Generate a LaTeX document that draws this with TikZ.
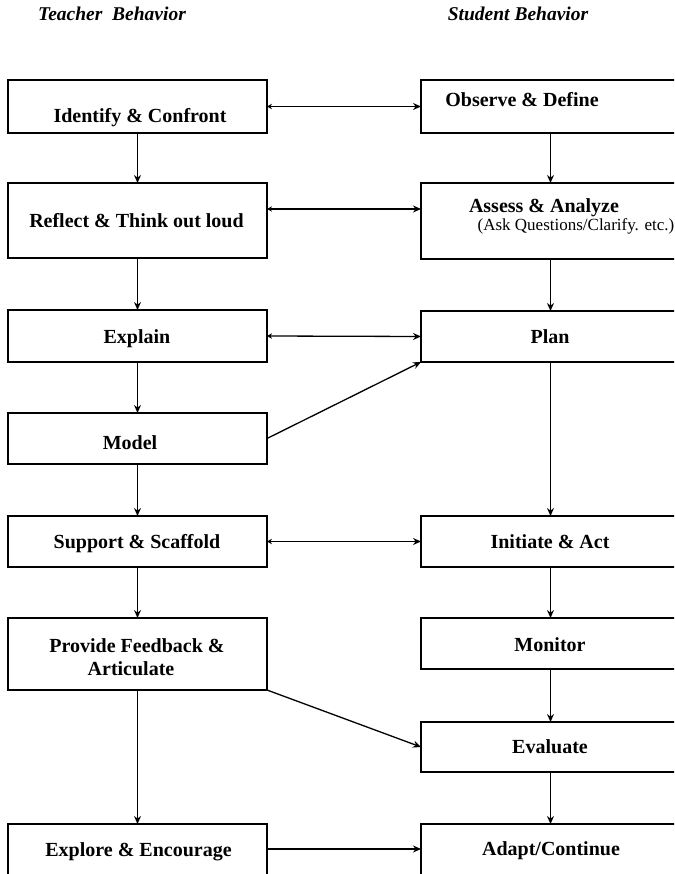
\documentclass[tikz,border=0pt]{standalone}
\usepackage{fontspec}
\setmainfont{Liberation Serif}
\usetikzlibrary{arrows.meta}
\begin{document}
\begin{tikzpicture}[x=1pt,y=-1pt,
  box/.style={draw, line width=1.6pt, rectangle, inner sep=0pt, outer sep=0pt, minimum width=259pt},
  txt/.style={font=\fontsize{20}{23}\selectfont\bfseries, inner sep=0pt, anchor=base},
  small/.style={font=\fontsize{17}{20}\selectfont, inner sep=0pt, anchor=base},
  ttl/.style={font=\fontsize{19.5}{22}\selectfont\bfseries\itshape, inner sep=0pt, anchor=base},
  conn/.style={line width=1.3pt, -{Stealth[length=8pt,width=7pt]}},
  both/.style={line width=1.3pt, {Stealth[length=5pt,width=5.5pt]}-{Stealth[length=8pt,width=7pt]}}]
\useasboundingbox (0,0) rectangle (674,874);
\clip (0,0) rectangle (674,874);

% titles
\node[ttl] (tt1) at (112,21) {Teacher\ \ Behavior};
\node[ttl] (tt2) at (518,21) {Student Behavior};

% left boxes
\node[box, minimum height=53pt] (L1) at (137.5,106.5) {};
\node[box, minimum height=75pt] (L2) at (137.5,220.5) {};
\node[box, minimum height=52pt] (L3) at (137.5,336) {};
\node[box, minimum height=51pt] (L4) at (137.5,438.5) {};
\node[box, minimum height=51pt] (L5) at (137.5,541.5) {};
\node[box, minimum height=72pt] (L6) at (137.5,654) {};
\node[box, minimum height=56pt] (L8) at (137.5,852) {};

% right boxes
\node[box, minimum height=53pt] (R1) at (550.5,106.5) {};
\node[box, minimum height=76pt] (R2) at (550.5,221) {};
\node[box, minimum height=51pt] (R3) at (550.5,336.5) {};
\node[box, minimum height=51pt] (R5) at (550.5,541.5) {};
\node[box, minimum height=51pt] (R6) at (550.5,643.5) {};
\node[box, minimum height=50pt] (R7) at (550.5,747) {};
\node[box, minimum height=56pt] (R8) at (550.5,852) {};

% texts
\node[txt] (t1) at (140,123) {Identify \& Confront};
\node[txt] (t2) at (136.5,228) {Reflect \& Think out loud};
\node[txt] (t3) at (137,343) {Explain};
\node[txt] (t4) at (130,449) {Model};
\node[txt] (t5) at (137,548) {Support \& Scaffold};
\node[txt] (t6a) at (137,652) {Provide Feedback \&};
\node[txt] (t6b) at (131,675) {Articulate};
\node[txt] (t8) at (138.5,856) {Explore \& Encourage};

\node[txt] (s1) at (522,107) {Observe \& Define};
\node[txt] (s2) at (544,213) {Assess \& Analyze};
\node[small] (s2b) at (576,231) {(Ask Questions/Clarify. etc.)};
\node[txt] (s3) at (550,343) {Plan};
\node[txt] (s5) at (550,548) {Initiate \& Act};
\node[txt] (s6) at (550,651) {Monitor};
\node[txt] (s7) at (550,753) {Evaluate};
\node[txt] (s8) at (551,855) {Adapt/Continue};

% vertical connectors
\draw[conn] (L1.south) -- (L2.north);
\draw[conn] (L2.south) -- (L3.north);
\draw[conn] (L3.south) -- (L4.north);
\draw[conn] (L4.south) -- (L5.north);
\draw[conn] (L5.south) -- (L6.north);
\draw[conn] (L6.south) -- (L8.north);
\draw[conn] (R1.south) -- (R2.north);
\draw[conn] (R2.south) -- (R3.north);
\draw[conn] (R3.south) -- (R5.north);
\draw[conn] (R5.south) -- (R6.north);
\draw[conn] (R6.south) -- (R7.north);
\draw[conn] (R7.south) -- (R8.north);

% horizontal connectors
\draw[both] (L1.east) -- (R1.west);
\draw[both] (L2.east |- 0,209) -- (R2.west |- 0,209);
\draw[both] (L3.east) -- (R3.west);
\draw[both] (L5.east) -- (R5.west);
\draw[conn] (L8.east |- 0,849) -- (R8.west |- 0,849);

% diagonal connectors
\draw[conn] (L4.east) -- (R3.south west);
\draw[conn] (L6.south east) -- (R7.west);
\end{tikzpicture}
\end{document}
